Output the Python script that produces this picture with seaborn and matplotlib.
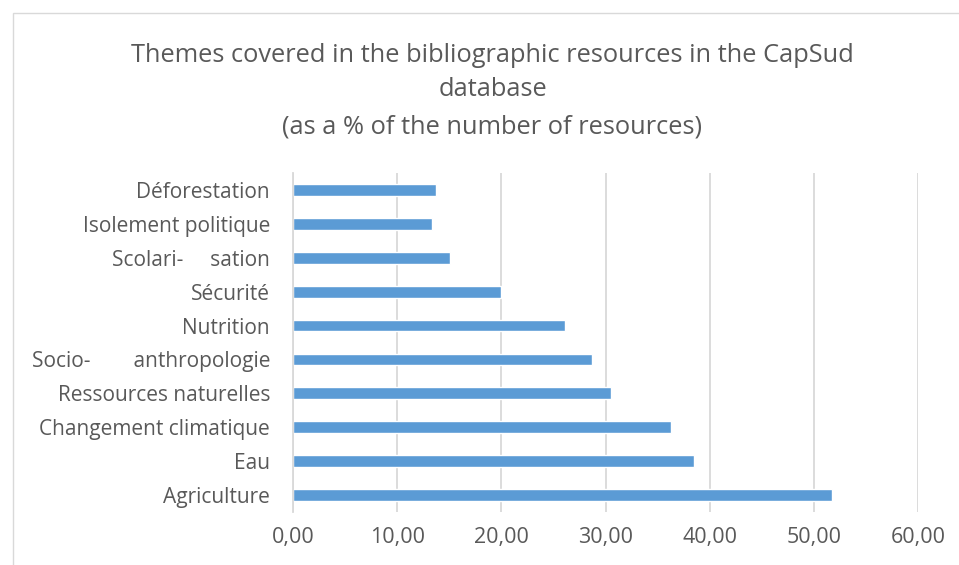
import pandas as pd
import matplotlib.pyplot as plt
import seaborn as sns
from matplotlib.patches import Rectangle

sns.set_theme(style="white")
plt.rcParams['font.family'] = ['Open Sans', 'DejaVu Sans']

# ----------------------------------------------------------------------
themes = ["Déforestation", "Isolement politique", "Scolari-     sation", "Sécurité",
          "Nutrition", "Socio-        anthropologie", "Ressources naturelles",
          "Changement climatique", "Eau", "Agriculture"]
pct = [13.75, 13.3, 15.1, 20.0, 26.1, 28.75, 30.5, 36.25, 38.5, 51.75]
xticks = [0, 10, 20, 30, 40, 50, 60]
title_lines = ["Themes covered in the bibliographic resources in the CapSud",
               "database",
               "(as a % of the number of resources)"]

data = pd.DataFrame({"theme": themes, "pct": pct})

# ----------------------------------------------------------------------
grey = "#595959"
W, H = 959, 565
fig = plt.figure(figsize=(W / 100, H / 100), dpi=100)
ax = fig.add_axes([293 / W, 1 - 512 / H, 625 / W, 339 / H])

sns.barplot(data=data, y="theme", x="pct", orient="h", color="#5B9BD5",
            width=0.35, saturation=1, ax=ax)

ax.set_xlim(0, 60)
ax.set_xticks(xticks)
ax.set_xticklabels([f"{v:.2f}".replace(".", ",") for v in xticks])
ax.set_xlabel("")
ax.set_ylabel("")
ax.grid(axis="x", color="#D9D9D9", linewidth=1.3)
ax.set_axisbelow(True)
for s in ["top", "right", "bottom"]:
    ax.spines[s].set_visible(False)
ax.spines["left"].set_color("#D9D9D9")
ax.spines["left"].set_linewidth(1.3)
ax.tick_params(axis="y", length=0, labelsize=15, colors=grey, pad=16.5)
ax.tick_params(axis="x", length=0, labelsize=15.5, colors=grey, pad=11)

# title, one baseline per line
for line, yb in zip(title_lines, [62, 96.5, 133.5]):
    fig.text(492.5 / W, 1 - yb / H, line, ha="center", va="baseline",
             fontsize=18.3, color=grey)

# chart-area border
fig.add_artist(Rectangle((12.5 / W, -0.01), 1.0, 1 - 13 / H + 0.01, transform=fig.transFigure,
                         fill=False, edgecolor="#D9D9D9", linewidth=1))

fig.savefig("out.png", dpi=100)
plt.close()
